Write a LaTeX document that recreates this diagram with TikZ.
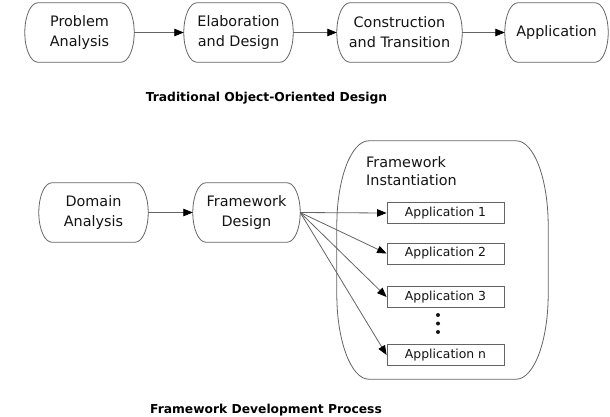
\documentclass[tikz,border=0pt]{standalone}
\usepackage{fontspec}
\setmainfont{DejaVu Sans}
\usetikzlibrary{calc,arrows.meta}
\definecolor{lc}{RGB}{100,100,100}
\definecolor{tc}{RGB}{20,20,20}
\tikzset{
  edge/.style={draw=lc, line width=0.8pt},
  stadbox/.style={inner sep=0pt, align=center, text=tc, font=\fontsize{14.4}{20}\selectfont, minimum height=59pt},
  appbox/.style={draw=lc, line width=0.8pt, inner sep=0pt, minimum width=117pt, minimum height=21pt, text=tc, font=\fontsize{12.4}{15}\selectfont},
  arr/.style={draw=lc, line width=0.8pt, -{Triangle[length=9.5pt,width=7.5pt,color=black]}},
  ttl/.style={font=\fontsize{12.3}{15}\selectfont\bfseries, text=black, inner sep=0pt},
}
\newcommand\stad[3]{%
  \draw[edge] ($(#1.north west)+(#2,0)$) -- ($(#1.north east)+(-#2,0)$)
    arc[start angle=90,end angle=0,x radius=#2,y radius=#3]
    -- ($(#1.south east)+(0,#3)$)
    arc[start angle=0,end angle=-90,x radius=#2,y radius=#3]
    -- ($(#1.south west)+(#2,0)$)
    arc[start angle=-90,end angle=-180,x radius=#2,y radius=#3]
    -- ($(#1.north west)+(0,-#3)$)
    arc[start angle=180,end angle=90,x radius=#2,y radius=#3] -- cycle;}
\begin{document}
\begin{tikzpicture}[x=1pt,y=1pt]
\useasboundingbox (0,0) rectangle (610,-416);
% top row
\node[stadbox, minimum width=109pt] (pa) at (79.5,-32.5) {Problem\\Analysis};
\node[stadbox, minimum width=109pt] (ed) at (238.5,-32.5) {Elaboration\\and Design};
\node[stadbox, minimum width=125pt] (ct) at (399.5,-32.5) {Construction\\and Transition};
\node[stadbox, minimum width=103pt] (ap) at (556.5,-32.5) {Application};
\stad{pa}{13}{29.5}
\stad{ed}{13}{29.5}
\stad{ct}{13}{29.5}
\stad{ap}{13}{29.5}
\draw[arr] (pa) -- (ed);
\draw[arr] (ed) -- (ct);
\draw[arr] (ct) -- (ap);
\node[ttl] (t1) at (266.5,-98) {Traditional Object-Oriented Design};
% bottom
\node[stadbox, minimum width=109pt] (da) at (93.5,-212.5) {Domain\\Analysis};
\node[stadbox, minimum width=107pt] (fd) at (246.5,-212.5) {Framework\\Design};
\stad{da}{13}{29.5}
\stad{fd}{13}{29.5}
\node[inner sep=0pt, minimum width=211pt, minimum height=238pt] (fw) at (442.5,-260) {};
\stad{fw}{32}{85}
\node[anchor=north west, inner sep=0pt, align=left, text=tc, font=\fontsize{14.4}{18}\selectfont] (fwt) at (366,-156) {Framework\\Instantiation};
\node[appbox] (a1) at (445.5,-213) {Application 1};
\node[appbox] (a2) at (445.5,-253.5) {Application 2};
\node[appbox] (a3) at (445.5,-297) {Application 3};
\node[appbox] (an) at (445.5,-355) {Application n};
\foreach \yy [count=\i] in {-315,-323.5,-332}
  \fill[tc] (438,\yy) circle[radius=2] coordinate (dot\i);
\draw[arr] (da) -- (fd);
\draw[arr] (fd.east) -- (a1.west);
\draw[arr] (fd.east) -- (a2.west);
\draw[arr] (fd.east) -- (a3.west);
\draw[arr] (fd.east) -- (an.west);
\node[ttl] (t2) at (266,-410) {Framework Development Process};
\end{tikzpicture}
\end{document}
